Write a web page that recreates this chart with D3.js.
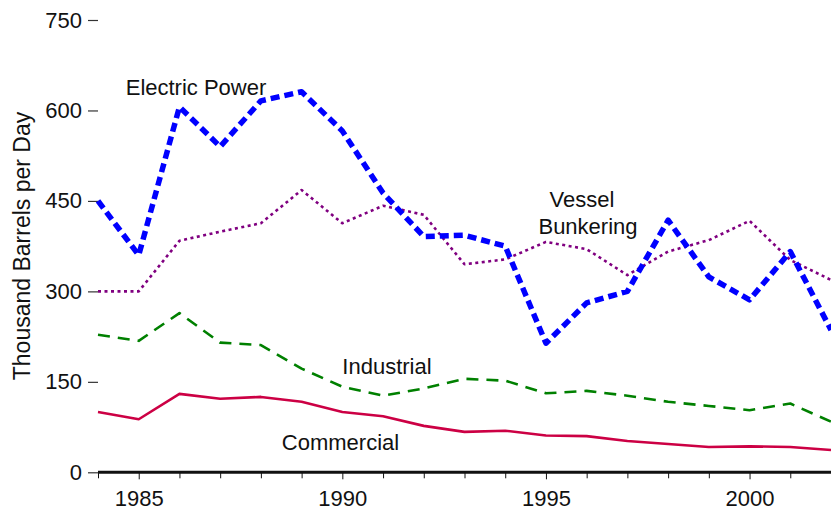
<!DOCTYPE html>
<html>
<head>
<meta charset="utf-8">
<script src="https://cdn.jsdelivr.net/npm/d3@7"></script>
<style>
  html, body { margin: 0; padding: 0; background: #fff; }
  svg { display: block; font-family: "Liberation Sans", Arial, sans-serif; }
</style>
</head>
<body>
<svg id="chart" width="831" height="515"></svg>
<script>
const years = [1984,1985,1986,1987,1988,1989,1990,1991,1992,1993,1994,1995,1996,1997,1998,1999,2000,2001,2002];
const electricPower = [450,360,606,540,616,631,566,463,391,393,375,214,281,300,418,324,286,366,236];
const vesselBunkering = [300,300,384,399,413,468,413,442,427,345,353,382,370,327,366,385,417,352,319];
const industrial = [228,218,264,215,211,172,142,127,139,155,152,131,135,127,117,110,103,114,84];
const commercial = [100,88,130,122,125,117,100,93,77,67,69,61,60,52,47,42,43,42,37];
const yTicks = [0,150,300,450,600,750];
const xTicks = [1985,1990,1995,2000];
const yTitle = "Thousand Barrels per Day";

const svg = d3.select("#chart");
const x = d3.scaleLinear().domain([1984, 2002]).range([98, 831]);
const y = d3.scaleLinear().domain([0, 750]).range([472.3, 20]);

// Y axis: ticks and labels only
const yAxis = svg.append("g").attr("transform", "translate(98,0)")
  .call(d3.axisLeft(y).tickValues(yTicks).tickSize(10).tickPadding(6).tickFormat(d3.format("d")));
yAxis.select(".domain").remove();
yAxis.selectAll(".tick line").attr("stroke", "#333").attr("stroke-width", 1.2);
yAxis.selectAll(".tick text").attr("font-size", 22).attr("fill", "#111")
  .attr("font-family", "Liberation Sans, Arial, sans-serif");

// X axis
const xAxis = svg.append("g").attr("transform", "translate(0,472.3)")
  .call(d3.axisBottom(x).tickValues(years).tickSize(6).tickPadding(12)
    .tickFormat(d => xTicks.includes(d) ? d : ""));
xAxis.select(".domain").attr("stroke", "#111").attr("stroke-width", 3).attr("d", "M98,0H831");
xAxis.selectAll(".tick line").attr("stroke", "#111").attr("stroke-width", 1);
xAxis.selectAll(".tick text").attr("font-size", 22).attr("fill", "#111")
  .attr("font-family", "Liberation Sans, Arial, sans-serif");
xAxis.selectAll(".tick").filter(d => xTicks.includes(d)).select("line").attr("y2", 7);

// Y title
svg.append("text")
  .attr("transform", "translate(30,246) rotate(-90)")
  .attr("text-anchor", "middle")
  .attr("font-size", 23).attr("fill", "#111")
  .text(yTitle);

const line = d3.line().x((d, i) => x(years[i])).y(d => y(d));

const series = [
  { data: commercial, color: "#cc0044", width: 2.6, dash: null },
  { data: industrial, color: "#008000", width: 2.6, dash: "12,8" },
  { data: vesselBunkering, color: "#800080", width: 2.6, dash: "3,3.5" },
  { data: electricPower, color: "#0000ff", width: 5.5, dash: "9,5" }
];

svg.append("defs").append("clipPath").attr("id", "clip")
  .append("rect").attr("x", 90).attr("y", 0).attr("width", 741).attr("height", 480);

const plot = svg.append("g").attr("clip-path", "url(#clip)");
series.forEach(s => {
  plot.append("path")
    .attr("d", line(s.data))
    .attr("fill", "none")
    .attr("stroke", s.color)
    .attr("stroke-width", s.width)
    .attr("stroke-dasharray", s.dash)
    .attr("stroke-linejoin", "round");
});

// Series labels
const labels = [
  { text: "Electric Power", x: 196, y: 95 },
  { text: "Vessel", x: 582, y: 207 },
  { text: "Bunkering", x: 588, y: 233.5 },
  { text: "Industrial", x: 387, y: 373.5 },
  { text: "Commercial", x: 340.5, y: 450 }
];
svg.append("g").selectAll("text").data(labels).join("text")
  .attr("x", d => d.x).attr("y", d => d.y)
  .attr("text-anchor", "middle")
  .attr("font-size", 22).attr("fill", "#111")
  .text(d => d.text);
</script>
</body>
</html>
